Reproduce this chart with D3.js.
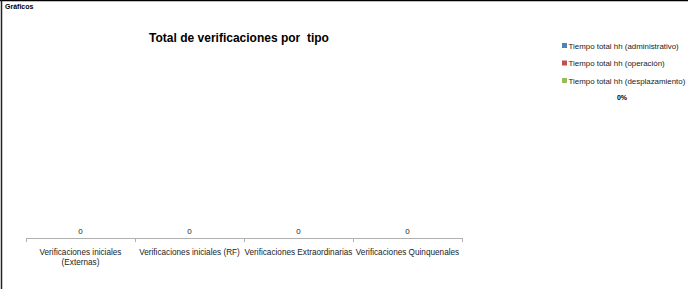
<!DOCTYPE html>
<html>
<head>
<meta charset="utf-8">
<script src="https://cdn.jsdelivr.net/npm/d3@7"></script>
<style>
  body { margin: 0; background: #fff; }
  svg { display: block; font-family: "Liberation Sans", Arial, sans-serif; }
</style>
</head>
<body>
<svg width="700" height="289"></svg>
<script>
// chart data
var categories = ["Verificaciones iniciales (Externas)", "Verificaciones iniciales (RF)",
  "Verificaciones Extraordinarias", "Verificaciones Quinquenales"];
var categoryLines = [["Verificaciones iniciales", "(Externas)"], ["Verificaciones iniciales (RF)"],
  ["Verificaciones Extraordinarias"], ["Verificaciones Quinquenales"]];
var seriesNames = ["Tiempo total hh (administrativo)", "Tiempo total hh (operación)",
  "Tiempo total hh (desplazamiento)"];
var administrativo = [0, 0, 0, 0];
var operacion = [0, 0, 0, 0];
var desplazamiento = [0, 0, 0, 0];
var seriesColors = ["#4F81BD", "#C0504D", "#9BBB59"];
var percentLabel = "0%";

var svg = d3.select("svg"),
  width = +svg.attr("width"),
  height = +svg.attr("height");

// sheet frame
svg.append("line").attr("x1", 0).attr("x2", 688).attr("y1", 0.5).attr("y2", 0.5)
  .attr("stroke", "#000").attr("stroke-width", 1.5);
svg.append("line").attr("x1", 1.5).attr("x2", 1.5).attr("y1", 0).attr("y2", height)
  .attr("stroke", "#222").attr("stroke-width", 1.5);

svg.append("text").attr("x", 5).attr("y", 9)
  .attr("font-size", 7).attr("font-weight", "bold").text("Gráficos");

svg.append("text").attr("x", 239).attr("y", 42).attr("text-anchor", "middle")
  .attr("font-size", 12).attr("font-weight", "bold")
  .attr("xml:space", "preserve")
  .text("Total de verificaciones por  tipo");

var x = d3.scaleBand().domain(categories).range([26, 462]).paddingInner(0.4).paddingOuter(0.2);
var y = d3.scaleLinear().domain([0, 1]).range([238, 60]);

var rows = categories.map(function (c, i) {
  return { cat: c, administrativo: administrativo[i], operacion: operacion[i], desplazamiento: desplazamiento[i] };
});
var stack = d3.stack().keys(["administrativo", "operacion", "desplazamiento"]);
var layers = stack(rows);

svg.append("g").selectAll("g")
  .data(layers)
  .enter().append("g")
  .attr("fill", function (d, i) { return seriesColors[i]; })
  .selectAll("rect")
  .data(function (d) { return d; })
  .enter().append("rect")
  .attr("x", function (d) { return x(d.data.cat); })
  .attr("width", x.bandwidth())
  .attr("y", function (d) { return y(d[1]); })
  .attr("height", function (d) { return y(d[0]) - y(d[1]); });

// axis line and ticks
var axisG = svg.append("g");
axisG.append("line").attr("x1", 26).attr("x2", 462).attr("y1", 238.5).attr("y2", 238.5)
  .attr("stroke", "#B0B0B0").attr("stroke-width", 1);
var step = 436 / categories.length;
d3.range(categories.length + 1).forEach(function (i) {
  axisG.append("line").attr("x1", 26.5 + i * step).attr("x2", 26.5 + i * step)
    .attr("y1", 238).attr("y2", 242).attr("stroke", "#B0B0B0");
});

// totals
svg.append("g").selectAll("text")
  .data(rows)
  .enter().append("text")
  .attr("x", function (d) { return x(d.cat) + x.bandwidth() / 2; })
  .attr("y", function (d) { return y(d.administrativo + d.operacion + d.desplazamiento) - 4; })
  .attr("text-anchor", "middle").attr("font-size", 8).attr("fill", "#222")
  .text(function (d) { return d.administrativo + d.operacion + d.desplazamiento; });

// category labels
var catG = svg.append("g").selectAll("text")
  .data(categories)
  .enter().append("text")
  .attr("x", function (d) { return x(d) + x.bandwidth() / 2; })
  .attr("y", 255)
  .attr("text-anchor", "middle").attr("font-size", 8.2).attr("fill", "#222");
catG.selectAll("tspan")
  .data(function (d, i) { return categoryLines[i]; })
  .enter().append("tspan")
  .attr("x", function () { return d3.select(this.parentNode).attr("x"); })
  .attr("dy", function (d, i) { return i ? 10 : 0; })
  .text(function (d) { return d; });

// legend
var legend = svg.append("g").selectAll("g")
  .data(seriesNames)
  .enter().append("g")
  .attr("transform", function (d, i) { return "translate(562," + (43 + i * 17.5) + ")"; });
legend.append("rect").attr("width", 5).attr("height", 5)
  .attr("fill", function (d, i) { return seriesColors[i]; });
legend.append("text").attr("x", 6.5).attr("y", 5.5)
  .attr("font-size", 7.9).attr("fill", "#222")
  .text(function (d) { return d; });

svg.append("text").attr("x", 622).attr("y", 99.5).attr("text-anchor", "middle")
  .attr("font-size", 7).attr("font-weight", "bold").text(percentLabel);
</script>
</body>
</html>
